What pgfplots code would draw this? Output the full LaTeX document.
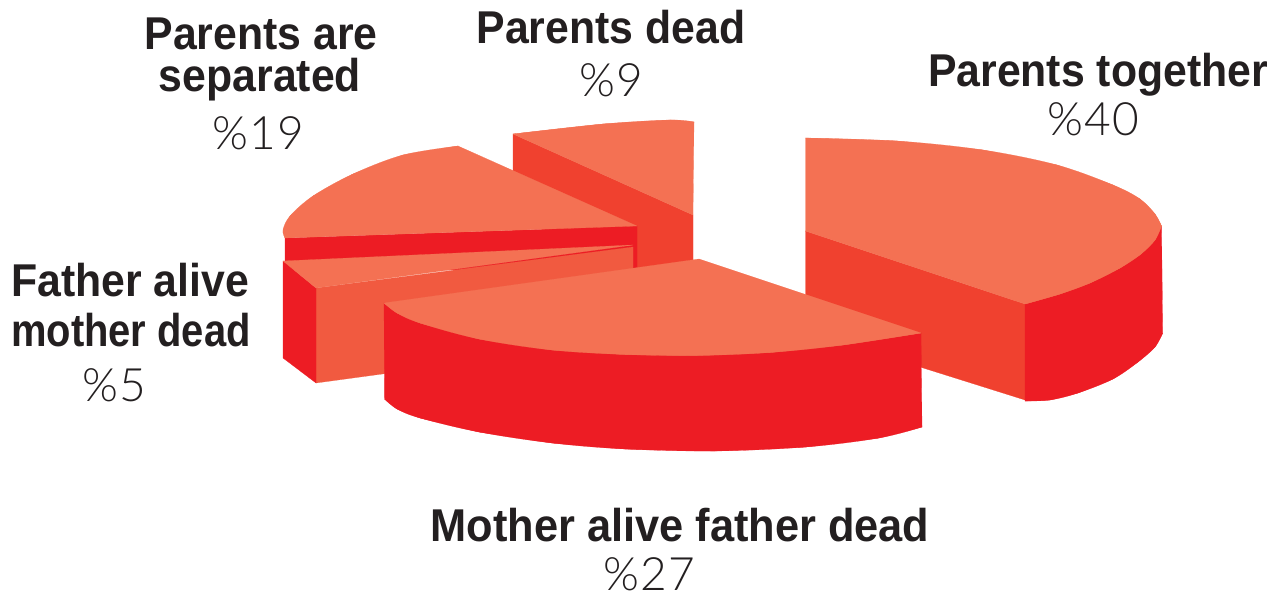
\documentclass[border=0pt]{standalone}
\usepackage{fontspec}
\setmainfont[FakeStretch=0.93]{Liberation Sans}
\newfontfamily\numfont[LetterSpace=3]{Lato Light}
\usepackage{pgfplots}
\pgfplotsset{compat=1.18}
\definecolor{topc}{HTML}{F47153}
\definecolor{midc}{HTML}{F0412F}
\definecolor{redc}{HTML}{ED1C24}
\definecolor{facec}{HTML}{F15A40}
\definecolor{txt}{HTML}{231F20}
\pgfplotsset{
 poly/.style={fill=#1,draw=#1,line width=0.1pt,line join=round,mark=none,forget plot},
 seg/.style={fill=#1,draw=#1,line width=0.1pt,smooth,tension=0.55,mark=none,forget plot},
}
\newcommand{\lab}[4][1]{\node[anchor=base,text=txt,font=\fontsize{23}{23}\selectfont\bfseries,inner sep=0pt] at (axis cs:#2,#3) {\scalebox{#1}[1]{#4}};}
\newcommand{\num}[3]{\node[anchor=base,text=txt,font=\fontsize{23}{23}\selectfont\numfont,inner sep=0pt] at (axis cs:#1,#2) {\%#3};}
\begin{document}
\begin{tikzpicture}
\path[use as bounding box] (0,0) rectangle (641.5pt,299pt);
\begin{axis}[
 at={(0,0)},anchor=south west,
 scale only axis,width=641.5pt,height=299pt,
 xmin=0,xmax=1283,ymin=0,ymax=598,y dir=reverse,
 hide axis,clip=false]
% Parents dead
\addplot[poly=midc] coordinates {(513,134)(693,215)(693,275)(600,275)(513,192)} --cycle;
\addplot[poly=topc] coordinates {(513,134)(603,124)(670,120)(694,122)(693,215)} --cycle;
\addplot[seg=topc] coordinates {(513,134)(603,124)(670,120)(694,122)};
% Parents are separated
\addplot[poly=redc] coordinates {(285,238)(637,226)(637,270)(285,270)} --cycle;
\addplot[poly=topc] coordinates {(458,146)(637,226)(285,238)(283,230)(290,216)(313,196)(353,174)(403,155)} --cycle;
\addplot[seg=topc] coordinates {(458,146)(403,155)(353,174)(313,196)(290,216)(283,230)(285,238)};
% Father alive mother dead
\addplot[poly=facec] coordinates {(316,288)(633,247)(633,340)(316,383)} --cycle;
\addplot[poly=redc] coordinates {(283,261)(316,288)(316,383)(283,358)} --cycle;
\addplot[poly=topc] coordinates {(283,261)(633,245)(316,288)} --cycle;
% Parents together
\addplot[poly=midc] coordinates {(805.5,231)(1025,304)(1025,400)(805.5,331)} --cycle;
\addplot[poly=redc] coordinates {(1161.5,226)(1162.7,333)(1155,347)(1138,362)(1113,379)(1078,393)(1050,400)(1025,401)(1025,304)} --cycle;
\addplot[seg=redc] coordinates {(1162.7,333)(1155,347)(1138,362)(1113,379)(1078,393)(1050,400)(1025,401)};
\addplot[poly=topc] coordinates {(805.5,138)(897,141)(983,150)(1057,165)(1113,185)(1140,199)(1155,214)(1161.5,226)(1155,240)(1141,254)(1120,268)(1090,283)(1060,294)(1025,304)(805.5,231)} --cycle;
\addplot[seg=topc] coordinates {(805.5,138)(897,141)(983,150)(1057,165)(1113,185)(1140,199)(1155,214)(1161.5,226)};
\addplot[seg=topc] coordinates {(1161.5,226)(1155,240)(1141,254)(1120,268)(1090,283)(1060,294)(1025,304)};
% Mother alive father dead
\addplot[poly=redc] coordinates {(384,303)(384.5,399)(397,409)(420,418)(479,432)(552,443)(625,449)(715,451)(806,447)(879,438)(922,427)(921,333)} --cycle;
\addplot[seg=redc] coordinates {(384.5,399)(397,409)(420,418)(479,432)(552,443)(625,449)(715,451)(806,447)(879,438)(922,427)};
\addplot[poly=topc] coordinates {(384,303)(699,259)(921,333)(843,345)(770,352.5)(697,355.5)(625,354.5)(552,350)(479,339)(420,323)(397,313)} --cycle;
\addplot[seg=topc] coordinates {(384,303)(397,313)(420,323)(479,339)(552,350)(625,354.5)(697,355.5)(770,352.5)(843,345)(921,333)};
% labels
\lab{261}{50}{Parents are}
\lab{260}{92}{separated}
\num{258}{150}{19}
\lab{611}{44}{Parents dead}
\num{611}{97}{9}
\lab{1098}{87}{Parents together}
\num{1093}{136}{40}
\lab{130}{297}{Father alive}
\lab[0.933]{131}{346}{mother dead}
\num{114}{401}{5}
\lab[1.014]{680}{541}{Mother alive father dead}
\num{649}{590}{27}
\end{axis}
\end{tikzpicture}
\end{document}
